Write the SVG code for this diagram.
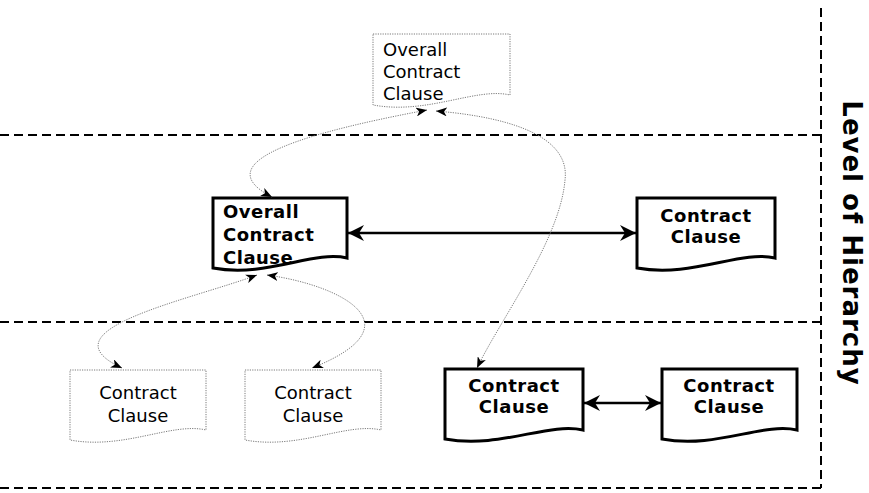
<svg xmlns="http://www.w3.org/2000/svg" width="869" height="493" viewBox="0 0 869 493">
<defs>
<style>
.doc{fill:#fff;stroke:#000;stroke-width:3;stroke-linejoin:miter}
.ghost{fill:#fff;stroke:#7a7a7a;stroke-width:1;stroke-dasharray:1.2 1.2}
.t{font-family:"DejaVu Sans",Verdana,sans-serif;font-size:18px;fill:#000}
.b{font-weight:bold;letter-spacing:0.5px}
.m{text-anchor:middle}
.lvl{stroke:#000;stroke-width:2;stroke-dasharray:9 5;fill:none}
.link{fill:none;stroke:#7a7a7a;stroke-width:1;stroke-dasharray:1.2 1.2}
.thick{fill:none;stroke:#000;stroke-width:2.5}
</style>
<marker id="ah" viewBox="0 0 16 16" refX="16" refY="8" markerWidth="16" markerHeight="16" markerUnits="userSpaceOnUse" orient="auto-start-reverse">
<path d="M0,0 L16,8 L0,16 L5,8 Z" fill="#000"/>
</marker>
<marker id="sh" viewBox="0 0 11 9" refX="11" refY="4.5" markerWidth="11" markerHeight="9" markerUnits="userSpaceOnUse" orient="auto-start-reverse">
<path d="M0,0 L11,4.5 L0,9 L3,4.5 Z" fill="#000"/>
</marker>
</defs>
<rect width="869" height="493" fill="#fff"/>

<g id="levels">
<line class="lvl" x1="0" y1="135" x2="821" y2="135"/>
<line class="lvl" x1="0" y1="322" x2="821" y2="322"/>
<line class="lvl" x1="0" y1="488" x2="821" y2="488"/>
<line class="lvl" x1="821" y1="8" x2="821" y2="488"/>
<text class="t" text-anchor="middle" transform="translate(843,243) rotate(90)" style="font-size:26px;font-weight:bold;letter-spacing:1px">Level of Hierarchy</text>
</g>

<g id="n-top">
<path class="ghost" transform="translate(373,34)" d="M0,0 H137 V61 C103,53 55,81 0,71 Z"/>
<text class="t" x="383" y="56">Overall</text>
<text class="t" x="383" y="78">Contract</text>
<text class="t" x="383" y="100">Clause</text>
</g>

<g id="n-overall">
<path class="doc" transform="translate(213,198)" d="M0,0 H134 V60 C100,52 54,80 0,70 Z"/>
<text class="t b" x="223" y="218">Overall</text>
<text class="t b" x="223" y="241">Contract</text>
<text class="t b" x="223" y="264">Clause</text>
</g>

<g id="n-right">
<path class="doc" transform="translate(637,198)" d="M0,0 H138 V60 C103,52 55,80 0,70 Z"/>
<text class="t b m" x="706" y="222">Contract</text>
<text class="t b m" x="706" y="243">Clause</text>
</g>

<g id="n-ghost1">
<path class="ghost" transform="translate(70,370)" d="M0,0 H136 V60 C102,52 54,80 0,70 Z"/>
<text class="t m" x="138" y="399">Contract</text>
<text class="t m" x="138" y="422">Clause</text>
</g>

<g id="n-ghost2">
<path class="ghost" transform="translate(245,370)" d="M0,0 H136 V60 C102,52 54,80 0,70 Z"/>
<text class="t m" x="313" y="399">Contract</text>
<text class="t m" x="313" y="422">Clause</text>
</g>

<g id="n-bottom1">
<path class="doc" transform="translate(445,369)" d="M0,0 H138 V61 C103,53 55,80 0,70 Z"/>
<text class="t b m" x="514" y="392">Contract</text>
<text class="t b m" x="514" y="413">Clause</text>
</g>

<g id="n-bottom2">
<path class="doc" transform="translate(662,369)" d="M0,0 H135 V61 C101,53 54,80 0,70 Z"/>
<text class="t b m" x="729" y="392">Contract</text>
<text class="t b m" x="729" y="413">Clause</text>
</g>

<g id="connectors">
<line class="thick" x1="348" y1="233" x2="636" y2="233" marker-start="url(#ah)" marker-end="url(#ah)"/>
<line class="thick" x1="584" y1="403" x2="661" y2="403" marker-start="url(#ah)" marker-end="url(#ah)"/>
<path class="link" d="M427,110 C320,130 200,160 272,197" marker-start="url(#sh)" marker-end="url(#sh)"/>
<path class="link" d="M436,111 C520,118 570,140 565,180 C560,240 500,320 477,368" marker-start="url(#sh)" marker-end="url(#sh)"/>
<path class="link" d="M257,275 C190,300 40,330 122,368" marker-start="url(#sh)" marker-end="url(#sh)"/>
<path class="link" d="M267,275 C340,285 420,325 312,368" marker-start="url(#sh)" marker-end="url(#sh)"/>
</g>
</svg>
